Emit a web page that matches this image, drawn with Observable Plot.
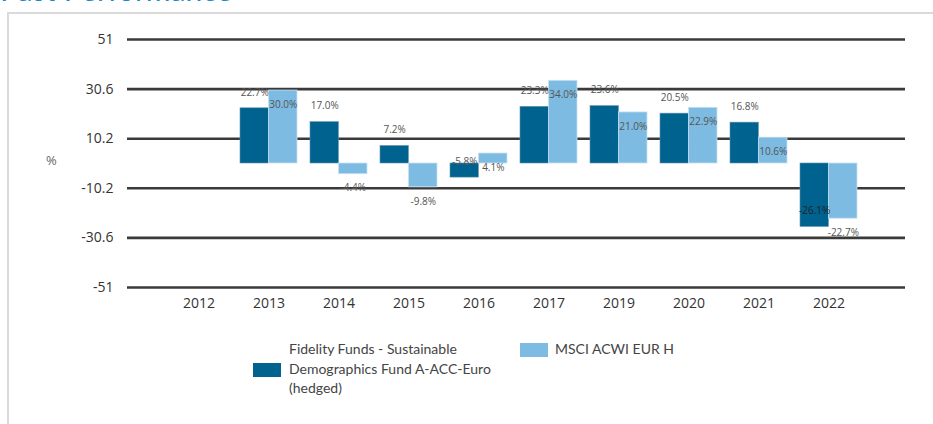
<!DOCTYPE html>
<html>
<head>
<meta charset="utf-8">
<script src="https://cdn.jsdelivr.net/npm/d3@7"></script>
<script src="https://cdn.jsdelivr.net/npm/@observablehq/plot@0.6"></script>
<style>
  html, body { margin: 0; padding: 0; background: #fff; width: 933px; height: 424px; overflow: hidden; position: relative; font-family: "Open Sans", sans-serif; }
  #title { position: absolute; left: 0; top: -29px; font-family: "Lato", sans-serif; font-size: 30px; color: #1a87c9; white-space: nowrap; }
  #panel { position: absolute; left: 7px; top: 12px; width: 940px; height: 430px; border-top: 2px solid #dadada; border-left: 2px solid #dadada; box-sizing: border-box; }
  #chart { position: absolute; left: 0; top: 0; }
  #ylab { position: absolute; left: 46px; top: 151px; font-size: 13px; color: #666; }
  .leg { position: absolute; font-family: "Lato", sans-serif; font-size: 14px; color: #444; line-height: 19.5px; }
  .sw { position: absolute; width: 28px; height: 14px; }
</style>
</head>
<body>
<div id="title">Past Performance</div>
<div id="panel"></div>
<div id="chart"></div>
<div id="ylab">%</div>
<div class="sw" id="sw1" style="left:253px; top:363px;"></div>
<div class="leg" id="leg1" style="left:289px; top:339px; width:220px;"></div>
<div class="sw" id="sw2" style="left:520px; top:343px;"></div>
<div class="leg" id="leg2" style="left:555px; top:339px;"></div>
<script>
const years = ["2012","2013","2014","2015","2016","2017","2019","2020","2021","2022"];
const fund = [null, 22.7, 17.0, 7.2, -5.8, 23.3, 23.6, 20.5, 16.8, -26.1];
const benchmark = [null, 30.0, -4.4, -9.8, 4.1, 34.0, 21.0, 22.9, 10.6, -22.7];
const yTicks = [51, 30.6, 10.2, -10.2, -30.6, -51];
const fundName = "Fidelity Funds - Sustainable Demographics Fund A-ACC-Euro (hedged)";
const benchName = "MSCI ACWI EUR H";
const fundColor = "#00628f";
const benchColor = "#7dbbe2";

const rows = years.map((year, i) => ({year, fund: fund[i], bench: benchmark[i]}));
const fundRows = rows.filter(d => d.fund != null);
const benchRows = rows.filter(d => d.bench != null);

const chart = Plot.plot({
  width: 933,
  height: 320,
  marginTop: 39,
  marginBottom: 33,
  marginLeft: 127,
  marginRight: 28,
  style: {fontFamily: "Open Sans, sans-serif", fontSize: "14px", color: "#333", background: "transparent"},
  x: {domain: years, paddingInner: 0.19, paddingOuter: 0, insetLeft: 40, insetRight: 45, label: null},
  y: {domain: [-51, 51], label: null},
  marks: [
    Plot.ruleY(yTicks, {stroke: "#3a3a3a", strokeWidth: 2.6}),
    Plot.axisY({ticks: yTicks, tickSize: 0, tickPadding: 14, tickFormat: d => String(d), fontSize: 14, fill: "#333"}),
    Plot.axisX({tickSize: 0, tickPadding: 11, fontSize: 14, fill: "#333"}),
    Plot.barY(fundRows, {x: "year", y: "fund", fill: fundColor, insetRight: 28.6, stroke: "#5f93b0", strokeWidth: 0.6}),
    Plot.barY(benchRows, {x: "year", y: "bench", fill: benchColor, insetLeft: 28.6, stroke: "#c5e0f2", strokeWidth: 0.8}),
    Plot.text(fundRows, {x: "year", y: "fund", text: d => d.fund.toFixed(1) + "%", dx: -14.3, dy: -16, fontSize: 10, fill: d => d.fund < -15 ? "#222" : "#555"}),
    Plot.text(benchRows, {x: "year", y: "bench", text: d => d.bench.toFixed(1) + "%", dx: 14.3, dy: 14, fontSize: 10, fill: "#555"})
  ]
});
document.getElementById("chart").appendChild(chart);

document.getElementById("sw1").style.background = fundColor;
document.getElementById("sw2").style.background = benchColor;
document.getElementById("leg1").innerHTML = "Fidelity Funds - Sustainable<br>Demographics Fund A-ACC-Euro<br>(hedged)";
document.getElementById("leg1").title = fundName;
document.getElementById("leg2").textContent = benchName;
</script>
</body>
</html>
